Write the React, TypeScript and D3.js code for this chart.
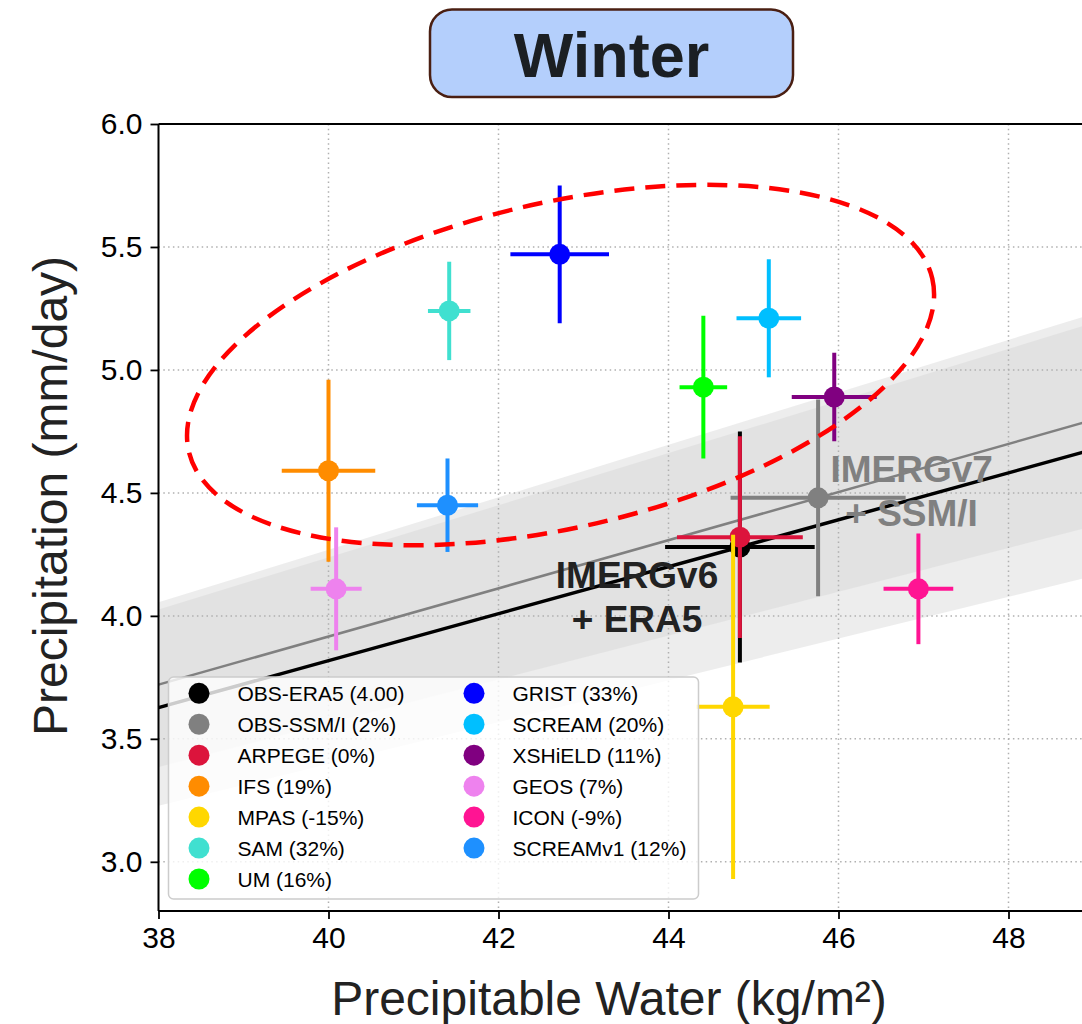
import React, { useEffect, useRef } from "react";
import * as d3 from "d3";

// model / observation names, in plotting (and legend) order
const MODELS = ["OBS-ERA5", "OBS-SSM/I", "ARPEGE", "IFS", "MPAS", "SAM", "UM", "GRIST", "SCREAM", "XSHiELD", "GEOS", "ICON", "SCREAMv1"];
const LEGEND_LABELS = ["OBS-ERA5 (4.00)", "OBS-SSM/I (2%)", "ARPEGE (0%)", "IFS (19%)", "MPAS (-15%)", "SAM (32%)", "UM (16%)", "GRIST (33%)", "SCREAM (20%)", "XSHiELD (11%)", "GEOS (7%)", "ICON (-9%)", "SCREAMv1 (12%)"];
const PW = [44.84, 45.76, 44.84, 40.0, 44.76, 41.42, 44.41, 42.72, 45.18, 45.95, 40.09, 46.94, 41.4];
const PR = [4.28, 4.48, 4.32, 4.59, 3.63, 5.24, 4.93, 5.47, 5.21, 4.89, 4.11, 4.11, 4.45];
const PW_ERR = [0.88, 1.03, 0.74, 0.55, 0.43, 0.25, 0.28, 0.58, 0.38, 0.5, 0.3, 0.41, 0.36];
const PR_ERR = [0.47, 0.4, 0.41, 0.37, 0.7, 0.2, 0.29, 0.28, 0.24, 0.18, 0.25, 0.225, 0.19];
const COLORS = ["#000000", "#808080", "#dc143c", "#ff8c00", "#ffd700", "#40e0d0", "#00ff00", "#0000ff", "#00bfff", "#800080", "#ee82ee", "#ff1493", "#1e90ff"];

// proportional (through origin) reference lines from the two observations, with +/- fraction bands
const REF_OBS = [0, 1];
const REF_COLORS = ["#000000", "#808080"];
const REF_WIDTH = [3.5, 2.5];
const BAND_FRAC = [0.11, 0.09];

const X_TICKS = [38, 40, 42, 44, 46, 48];
const Y_TICKS = [3.0, 3.5, 4.0, 4.5, 5.0, 5.5, 6.0];

// highlighted cluster: centre (PW, PR), semi axes (PW units, PR units), tilt in degrees
const ELLIPSE_CENTER = [42.73, 5.02];
const ELLIPSE_AXES = [4.49, 0.66];
const ELLIPSE_TILT = 13.1;

const ANNOT_TEXT = [["IMERGv6", "+ ERA5"], ["IMERGv7", "+ SSM/I"]];
const ANNOT_POS = [[43.63, 4.114], [46.86, 4.545]];
const ANNOT_COLORS = ["#222222", "#808080"];

const FONT = "'Liberation Sans', Arial, Helvetica, sans-serif";

export default function App() {
  const ref = useRef<SVGSVGElement>(null);

  useEffect(() => {
    const W = 1082, H = 1024;
    const left = 158.5, top = 124, bottom = 911;
    const svg = d3.select(ref.current);
    svg.selectAll("*").remove();
    svg.attr("width", W).attr("height", H);

    const x = d3.scaleLinear().domain([38, 49]).range([left, left + 11 * 85]);
    const y = d3.scaleLinear().domain([2.8, 6.0]).range([bottom, top]);
    const [x0, x1] = x.domain();

    svg.append("defs").append("clipPath").attr("id", "plotclip")
      .append("rect").attr("x", left).attr("y", top).attr("width", W - left).attr("height", bottom - top);

    const plot = svg.append("g").attr("clip-path", "url(#plotclip)");

    // shaded bands
    REF_OBS.forEach((oi, k) => {
      const slope = PR[oi] / PW[oi];
      const f = BAND_FRAC[k];
      const pts: [number, number][] = [
        [x(x0), y(slope * x0 * (1 + f))],
        [x(x1), y(slope * x1 * (1 + f))],
        [x(x1), y(slope * x1 * (1 - f))],
        [x(x0), y(slope * x0 * (1 - f))],
      ];
      plot.append("path")
        .attr("d", d3.line()(pts) + "Z")
        .attr("fill", "#d3d3d3")
        .attr("fill-opacity", 0.42);
    });

    // grid
    X_TICKS.filter(t => t > x0).forEach(t => {
      plot.append("line").attr("x1", x(t)).attr("x2", x(t)).attr("y1", top).attr("y2", bottom)
        .attr("stroke", "#b0b0b0").attr("stroke-width", 1.5).attr("stroke-dasharray", "1.5,3.3");
    });
    Y_TICKS.filter(t => t < 6).forEach(t => {
      plot.append("line").attr("x1", left).attr("x2", W).attr("y1", y(t)).attr("y2", y(t))
        .attr("stroke", "#b0b0b0").attr("stroke-width", 1.5).attr("stroke-dasharray", "1.5,3.3");
    });

    // reference lines
    REF_OBS.slice().reverse().forEach((oi) => {
      const k = REF_OBS.indexOf(oi);
      const slope = PR[oi] / PW[oi];
      plot.append("path")
        .attr("d", d3.line<number>().x(d => x(d)).y(d => y(slope * d))([x0, x1]))
        .attr("stroke", REF_COLORS[k]).attr("stroke-width", REF_WIDTH[k]).attr("fill", "none");
    });

    // error bars and points
    MODELS.forEach((m, i) => {
      const g = plot.append("g");
      g.append("line").attr("x1", x(PW[i] - PW_ERR[i])).attr("x2", x(PW[i] + PW_ERR[i]))
        .attr("y1", y(PR[i])).attr("y2", y(PR[i]))
        .attr("stroke", COLORS[i]).attr("stroke-width", 4);
      g.append("line").attr("x1", x(PW[i])).attr("x2", x(PW[i]))
        .attr("y1", y(PR[i] - PR_ERR[i])).attr("y2", y(PR[i] + PR_ERR[i]))
        .attr("stroke", COLORS[i]).attr("stroke-width", 4);
      g.append("circle").attr("cx", x(PW[i])).attr("cy", y(PR[i])).attr("r", 10.5).attr("fill", COLORS[i]);
    });

    // dashed ellipse
    const [ecx, ecy] = ELLIPSE_CENTER;
    plot.append("ellipse")
      .attr("cx", 0).attr("cy", 0)
      .attr("rx", x(ecx + ELLIPSE_AXES[0]) - x(ecx))
      .attr("ry", y(ecy) - y(ecy + ELLIPSE_AXES[1]))
      .attr("transform", `translate(${x(ecx)},${y(ecy)}) rotate(${-ELLIPSE_TILT})`)
      .attr("fill", "none").attr("stroke", "#ff0000").attr("stroke-width", 4.5)
      .attr("stroke-dasharray", "20,11");

    // annotations
    ANNOT_TEXT.forEach((lines, k) => {
      const t = plot.append("text")
        .attr("x", x(ANNOT_POS[k][0])).attr("y", y(ANNOT_POS[k][1]))
        .attr("text-anchor", "middle").attr("font-family", FONT).attr("font-weight", "bold")
        .attr("font-size", 37).attr("fill", ANNOT_COLORS[k]);
      lines.forEach((l, j) => {
        t.append("tspan").attr("x", x(ANNOT_POS[k][0])).attr("dy", j === 0 ? 0 : 44).text(l);
      });
    });

    // spines
    svg.append("line").attr("x1", left).attr("x2", left).attr("y1", top).attr("y2", bottom).attr("stroke", "#000").attr("stroke-width", 2);
    svg.append("line").attr("x1", left).attr("x2", W).attr("y1", bottom).attr("y2", bottom).attr("stroke", "#000").attr("stroke-width", 2);
    svg.append("line").attr("x1", left).attr("x2", W).attr("y1", top).attr("y2", top).attr("stroke", "#000").attr("stroke-width", 2);

    // axes
    const xAxis = svg.append("g").attr("transform", `translate(0,${bottom})`)
      .call(d3.axisBottom(x).tickValues(X_TICKS).tickFormat(d3.format("d")).tickSize(8).tickPadding(8).tickSizeOuter(0));
    const yAxis = svg.append("g").attr("transform", `translate(${left},0)`)
      .call(d3.axisLeft(y).tickValues(Y_TICKS).tickFormat(d3.format(".1f")).tickSize(8).tickPadding(8).tickSizeOuter(0));
    [xAxis, yAxis].forEach(a => {
      a.select(".domain").remove();
      a.selectAll(".tick line").attr("stroke", "#000").attr("stroke-width", 1.8);
      a.selectAll(".tick text").attr("font-family", FONT).attr("font-size", 30).attr("fill", "#000");
    });

    // axis labels
    svg.append("text").attr("x", 609).attr("y", 1015).attr("text-anchor", "middle")
      .attr("font-family", FONT).attr("font-size", 48).attr("fill", "#222")
      .text("Precipitable Water (kg/m²)");
    svg.append("text").attr("transform", "translate(67,496) rotate(-90)").attr("text-anchor", "middle")
      .attr("font-family", FONT).attr("font-size", 48).attr("fill", "#222")
      .text("Precipitation (mm/day)");

    // legend
    const lg = svg.append("g");
    lg.append("rect").attr("x", 168.5).attr("y", 677).attr("width", 530).attr("height", 222).attr("rx", 5)
      .attr("fill", "#fff").attr("fill-opacity", 0.8).attr("stroke", "#cccccc").attr("stroke-width", 1.5);
    const perCol = 7;
    MODELS.forEach((m, i) => {
      const col = Math.floor(i / perCol), row = i % perCol;
      const cx = col === 0 ? 199 : 474;
      const cy = 693.3 + row * 30.95;
      lg.append("circle").attr("cx", cx).attr("cy", cy).attr("r", 10.5).attr("fill", COLORS[i]);
      lg.append("text").attr("x", cx + 38.5).attr("y", cy).attr("dy", "0.36em")
        .attr("font-family", FONT).attr("font-size", 21).attr("fill", "#000").text(LEGEND_LABELS[i]);
    });

    // title box
    svg.append("rect").attr("x", 430).attr("y", 9.5).attr("width", 363).attr("height", 87.5).attr("rx", 22)
      .attr("fill", "#b4cffc").attr("stroke", "#4a1f12").attr("stroke-width", 2.5);
    svg.append("text").attr("x", 611.5).attr("y", 77).attr("text-anchor", "middle")
      .attr("font-family", FONT).attr("font-weight", "bold").attr("font-size", 63).attr("fill", "#1b1f23")
      .text("Winter");
  }, []);

  return (
    <div style={{ position: "absolute", left: 0, top: 0 }}>
      <svg ref={ref} />
    </div>
  );
}
